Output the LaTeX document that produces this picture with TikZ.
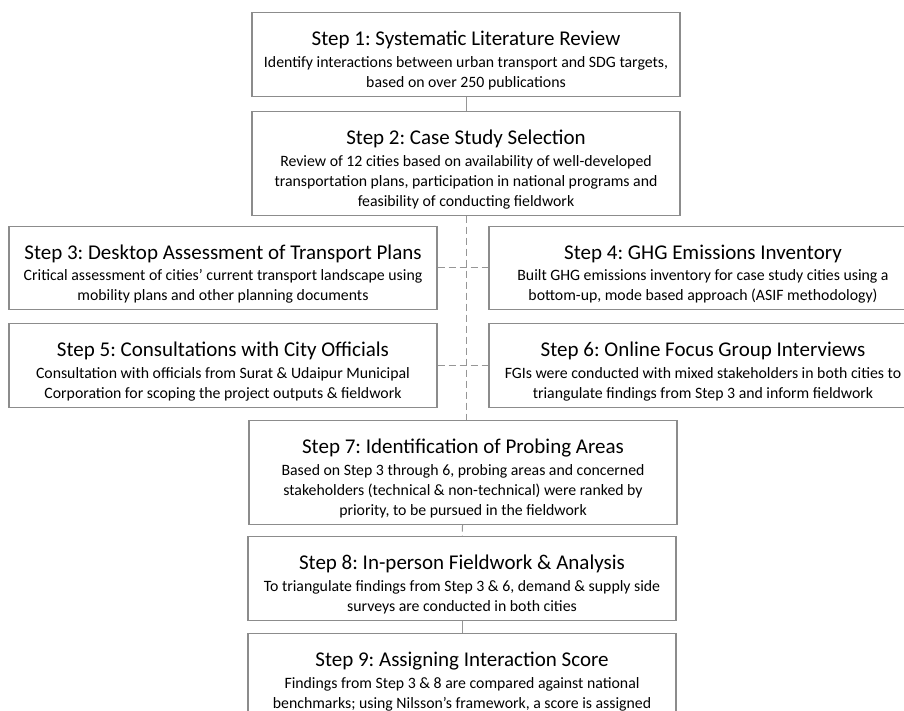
\documentclass[tikz,border=0pt]{standalone}
\usepackage{fontspec}
\setmainfont{Carlito}
\frenchspacing
\definecolor{BoxGrey}{RGB}{140,140,140}
\definecolor{LinkGrey}{RGB}{150,150,150}
\newcommand{\steptitle}[1]{{\fontsize{21}{25}\selectfont\rule{0pt}{33pt}#1}}
\newcommand{\stepend}{\rule[-9pt]{0pt}{9pt}}

\begin{document}
\begin{tikzpicture}[x=1pt, y=-1pt, font=\fontsize{15.8}{20}\selectfont]
    \tikzset{
        stepbox/.style={rectangle, draw=BoxGrey, line width=1.2pt, fill=white,
            anchor=north, align=center, inner xsep=4pt, inner ysep=0pt,
            minimum width=428pt},
        solidlink/.style={draw=LinkGrey, line width=1pt},
        dashlink/.style={draw=LinkGrey, line width=1pt, dash pattern=on 7pt off 4pt}
    }
    \path[use as bounding box, fill=white] (0,0) rectangle (904,710);
    \node[stepbox] (s1) at (466,12) {\steptitle{Step 1: Systematic Literature Review}\\[1.5pt]
        Identify interactions between urban transport and SDG targets,\\
        based on over 250 publications\stepend};
    \node[stepbox] (s2) at (466,111) {\steptitle{Step 2: Case Study Selection}\\[1.5pt]
        Review of 12 cities based on availability of well-developed\\
        transportation plans, participation in national programs and\\
        feasibility of conducting fieldwork\stepend};
    \node[stepbox] (s3) at (223,225.5) {\steptitle{Step 3: Desktop Assessment of Transport Plans}\\[1.5pt]
        Critical assessment of cities' current transport landscape using\\
        mobility plans and other planning documents\stepend};
    \node[stepbox] (s4) at (703,225.5) {\steptitle{Step 4: GHG Emissions Inventory}\\[1.5pt]
        Built GHG emissions inventory for case study cities using a\\
        bottom-up, mode based approach (ASIF methodology)\stepend};
    \node[stepbox] (s5) at (223,323) {\steptitle{Step 5: Consultations with City Officials}\\[1.5pt]
        Consultation with officials from Surat \& Udaipur Municipal\\
        Corporation for scoping the project outputs \& fieldwork\stepend};
    \node[stepbox] (s6) at (703,323) {\steptitle{Step 6: Online Focus Group Interviews}\\[1.5pt]
        FGIs were conducted with mixed stakeholders in both cities to\\
        triangulate findings from Step 3 and inform fieldwork\stepend};
    \node[stepbox] (s7) at (463,420) {\steptitle{Step 7: Identification of Probing Areas}\\[1.5pt]
        Based on Step 3 through 6, probing areas and concerned\\
        stakeholders (technical \& non-technical) were ranked by\\
        priority, to be pursued in the fieldwork\stepend};
    \node[stepbox] (s8) at (462,536) {\steptitle{Step 8: In-person Fieldwork \& Analysis}\\[1.5pt]
        To triangulate findings from Step 3 \& 6, demand \& supply side\\
        surveys are conducted in both cities\stepend};
    \node[stepbox] (s9) at (462,633) {\steptitle{Step 9: Assigning Interaction Score}\\[1.5pt]
        Findings from Step 3 \& 8 are compared against national\\
        benchmarks; using Nilsson's framework, a score is assigned\stepend};
    % links between steps
    \draw[solidlink] (s1) -- (s2);
    \draw[dashlink] (s2.south) -- (s2.south |- s7.north);
    \draw[dashlink] (s3.east) -- (s4.west);
    \draw[dashlink] (s5.east) -- (s6.west);
    \draw[dashlink] (s7) -- (s8);
    \draw[solidlink] (s8) -- (s9);
\end{tikzpicture}
\end{document}
